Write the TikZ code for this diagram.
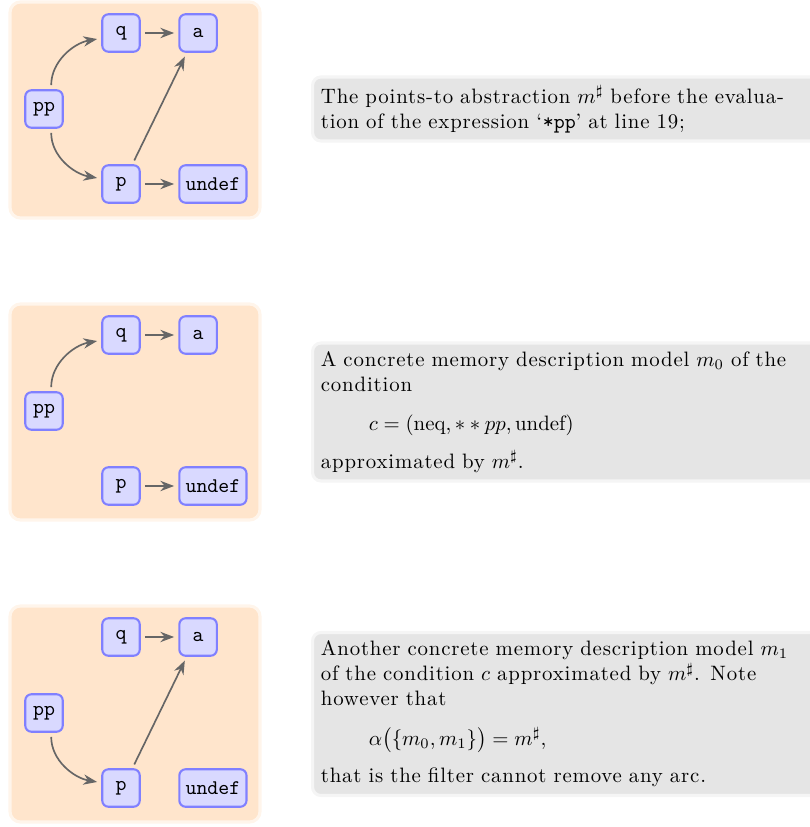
\documentclass[tikz,border=0pt]{standalone}
\usepackage{fontspec}
\setmainfont{Latin Modern Roman}[LetterSpace=4]
\usetikzlibrary{arrows.meta,positioning}
\begin{document}
\begin{tikzpicture}[
    x=0.48pt, y=-0.48pt,
    node distance=18pt,
    panel/.style={fill=orange!20, draw=orange!8, line width=1.5pt, rounded corners=5pt},
    cell/.style={rectangle, rounded corners=3pt, draw=blue!50, fill=blue!15, line width=1pt, minimum height=18pt, minimum width=18pt, inner sep=3pt, font=\ttfamily},
    note/.style={rectangle, rounded corners=4pt, fill=black!10, draw=black!4, line width=1.5pt, text width=260pt, align=left, inner sep=4pt, anchor=west},
    link/.style={->, thick, draw=black!60, shorten >=2pt, shorten <=2pt},
    >=Stealth
]
\useasboundingbox (0,0) rectangle (809,827);

% first graph: m#
\draw[panel] (10,2) rectangle (260,218);
\node[cell] (pp1) at (44,109) {pp};
\node[cell] (q1) at (121,33) {q};
\node[cell, right=of q1] (a1) {a};
\node[cell] (p1) at (121,184) {p};
\node[cell, right=of p1] (u1) {undef};
\draw[link] (pp1.70) to[out=90, in=190] (q1.195);
\draw[link] (pp1.-70) to[out=-90, in=170] (p1.165);
\draw[link] (q1) -- (a1);
\draw[link] (p1) -- (u1);
\draw[link] (p1.60) -- (a1.240);
\node[note] (t1) at (311,109) {The points-to abstraction $m^\sharp$ before the evalua-\\tion of the expression `\texttt{*pp}' at line 19;};

% second graph: m0
\draw[panel] (10,304) rectangle (260,520);
\node[cell] (pp2) at (44,411) {pp};
\node[cell] (q2) at (121,335) {q};
\node[cell, right=of q2] (a2) {a};
\node[cell] (p2) at (121,486) {p};
\node[cell, right=of p2] (u2) {undef};
\draw[link] (pp2.70) to[out=90, in=190] (q2.195);
\draw[link] (q2) -- (a2);
\draw[link] (p2) -- (u2);
\node[note] (t2) at (311,412) {A concrete memory description model $m_0$ of the\\condition\\[7pt]\hspace*{23pt}$c = (\mathrm{neq}, * * pp, \mathrm{undef})$\\[6pt]approximated by $m^\sharp$.};

% third graph: m1
\draw[panel] (10,606) rectangle (260,822);
\node[cell] (pp3) at (44,713) {pp};
\node[cell] (q3) at (121,637) {q};
\node[cell, right=of q3] (a3) {a};
\node[cell] (p3) at (121,788) {p};
\node[cell, right=of p3] (u3) {undef};
\draw[link] (pp3.-70) to[out=-90, in=170] (p3.165);
\draw[link] (q3) -- (a3);
\draw[link] (p3.60) -- (a3.240);
\node[note] (t3) at (311,714) {Another concrete memory description model $m_1$\\of the condition $c$ approximated by $m^\sharp$. Note\\however that\\[7pt]\hspace*{23pt}$\alpha\bigl(\{m_0, m_1\}\bigr) = m^\sharp,$\\[6pt]that is the filter cannot remove any arc.};
\end{tikzpicture}
\end{document}
